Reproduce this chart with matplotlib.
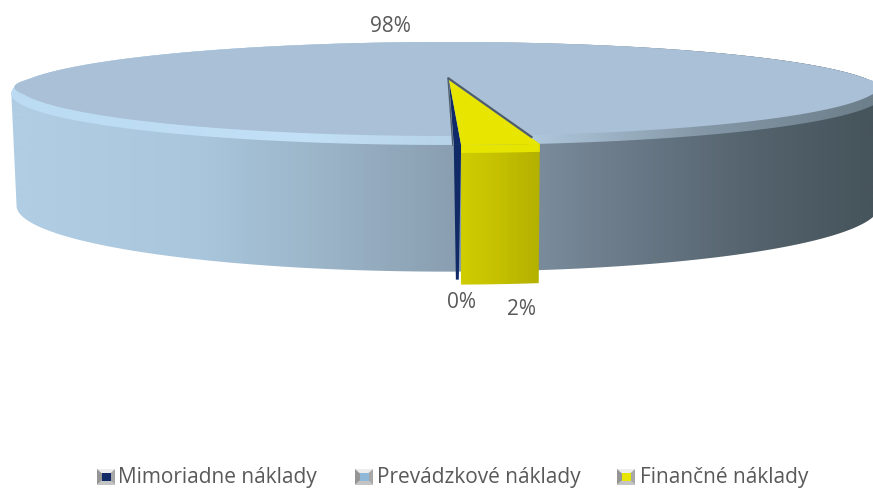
import numpy as np
import matplotlib
matplotlib.use('Agg')
import matplotlib.pyplot as plt
from matplotlib.colors import LinearSegmentedColormap
from matplotlib.patches import Polygon, Rectangle

categories = ['Mimoriadne náklady', 'Prevádzkové náklady', 'Finančné náklady']
shares = [0.2, 97.63, 2.17]
pct_labels = ['0%', '98%', '2%']

plt.rcParams['font.family'] = ['Open Sans', 'DejaVu Sans']

W, H = 873, 489
K = 0.2816
CX = 448
START = np.radians(9.1)  # right edge of the yellow wedge, from the front


def top_rim(th, r=1.0):
    w = 1 - K * r * np.cos(th)
    return CX + 419 * r * np.sin(th) / w, 80 + 47.4 * r * np.cos(th) / w


def bottom_rim(th, drop=0.0):
    w = 1 - K * np.cos(th)
    return CX + 414 * np.sin(th) / w, 188 + 60.8 * np.cos(th) / w + drop


def inner_rim(th):
    # the bevel is mostly a vertical band on the front half
    x, y = top_rim(th)
    lift = np.clip(np.cos(th) * 2.2, 0, 1)
    return x - 5 * np.sin(th) * lift, y - 9 * lift


def gradient(ax, clip, xs, colors):
    stops = [0] + list(xs) + [W]
    cols = [colors[0]] + list(colors) + [colors[-1]]
    cmap = LinearSegmentedColormap.from_list('g', list(zip(np.array(stops) / W, cols)))
    im = ax.imshow(np.linspace(0, 1, W)[None, :], extent=[0, W, H, 0], cmap=cmap,
                   vmin=0, vmax=1, aspect='auto', interpolation='bilinear')
    patch = Polygon(clip, closed=True, transform=ax.transData, fc='none', ec='none')
    ax.add_patch(patch)
    im.set_clip_path(patch)


def pts(f, th, **kw):
    x, y = f(th, **kw)
    return np.column_stack([x, y])


def swatch(ax, x, y, col):
    w, h = 18, 16
    tl, tr, bl, br = (x, y), (x + w, y), (x, y + h), (x + w, y + h)
    mid = (x + w / 2, y + h / 2)
    ax.add_patch(Polygon([tl, tr, mid], fc='#ececec', ec='none'))
    ax.add_patch(Polygon([tl, bl, mid], fc='#959595', ec='none'))
    ax.add_patch(Polygon([tr, br, mid], fc='#a8a8a8', ec='none'))
    ax.add_patch(Polygon([bl, br, mid], fc='#c4c4c4', ec='none'))
    ax.add_patch(Rectangle((x + 4.5, y + 4), 9, 8, fc=col, ec='none'))


fig = plt.figure(figsize=(W / 100, H / 100), dpi=100)
ax = fig.add_axes([0, 0, 1, 1])

sweeps = np.radians(np.array(shares) / 100 * 360)
# clockwise seen from above the order at the front runs right to left
fin_end = START
fin_start = fin_end - sweeps[2]
mim_end = fin_start
mim_start = mim_end - sweeps[0]

sil = np.arccos(K)
back = np.linspace(sil, 2 * np.pi - sil, 300)
front = np.linspace(2 * np.pi - sil, 2 * np.pi + sil, 300)
side_x = [30, 200, 330, 450, 600, 760, 872]
side_c = ['#b0cde3', '#a9c6dc', '#9ab3c7', '#8a9fb1', '#6f7f8e', '#53626c', '#46545b']
gradient(ax, np.vstack([pts(top_rim, back), pts(bottom_rim, front)]), side_x, side_c)

# bevel ring, then the flat top
ring = np.linspace(0, 2 * np.pi, 500)
gradient(ax, pts(top_rim, ring), [100, 300, 450, 540, 700, 872],
         ['#bcdcf3', '#c2e0f6', '#b6d3ea', '#aec6da', '#8598a8', '#6d7f8a'])
ax.add_patch(Polygon(pts(inner_rim, ring), closed=True, fc='#a9c0d6', ec='none'))

# wedge corners
apex = np.array([CX + 1, 81])
yel = '#e8e600'
nav = '#0f2a66'

# navy wedge: wall first, sliver on top
mt = np.linspace(mim_start, mim_end, 6)
mt_low = np.linspace(mim_start + 0.3 * sweeps[0], mim_end - 0.3 * sweeps[0], 6)
ax.add_patch(Polygon(np.vstack([pts(top_rim, mt), pts(bottom_rim, mt_low[::-1], drop=8)]),
                     closed=True, fc=nav, ec='none'))
ax.add_patch(Polygon(np.vstack([apex, pts(top_rim, mt)]), closed=True, fc=nav, ec='none'))

# yellow wedge
ft = np.linspace(fin_start, fin_end, 20)
gradient(ax, np.vstack([pts(top_rim, ft), pts(bottom_rim, ft[::-1], drop=13)]),
         [460, 500, 540], ['#d0cd00', '#c4c000', '#b4b000'])
band = pts(top_rim, ft)
band2 = band + [0, 8]
ax.add_patch(Polygon(np.vstack([band, band2[::-1]]), closed=True, fc='#e6e500', ec='none'))
ax.add_patch(Polygon(np.vstack([apex, pts(top_rim, ft)]), closed=True, fc=yel, ec='none'))

# dark edge along the wedge
ex, ey = top_rim(fin_end, r=0.94)
ax.plot([apex[0] - 1, ex], [apex[1] - 2, ey - 1], color='#4f5d6b', lw=1.6, solid_capstyle='butt')
ex, ey = top_rim(mim_start)
ax.plot([apex[0] - 1, ex - 1], [apex[1] - 2, ey], color='#4f5d6b', lw=1.0)

txt = '#595959'
ax.text(390, 32, pct_labels[1], color=txt, fontsize=15, ha='center', va='baseline')
ax.text(461, 308, pct_labels[0], color=txt, fontsize=15, ha='center', va='baseline')
ax.text(521, 315, pct_labels[2], color=txt, fontsize=15, ha='center', va='baseline')

# legend
swatch_x = [97, 355, 617]
text_x = [118, 377, 640]
swatch_c = [nav, '#8fb8d8', yel]
for sx, tx, col, name in zip(swatch_x, text_x, swatch_c, categories):
    swatch(ax, sx, 470, col)
    ax.text(tx, 483, name, color=txt, fontsize=15, ha='left', va='baseline')

ax.set_xlim(0, W)
ax.set_ylim(H, 0)
ax.axis('off')
fig.savefig('out.png', dpi=100)
